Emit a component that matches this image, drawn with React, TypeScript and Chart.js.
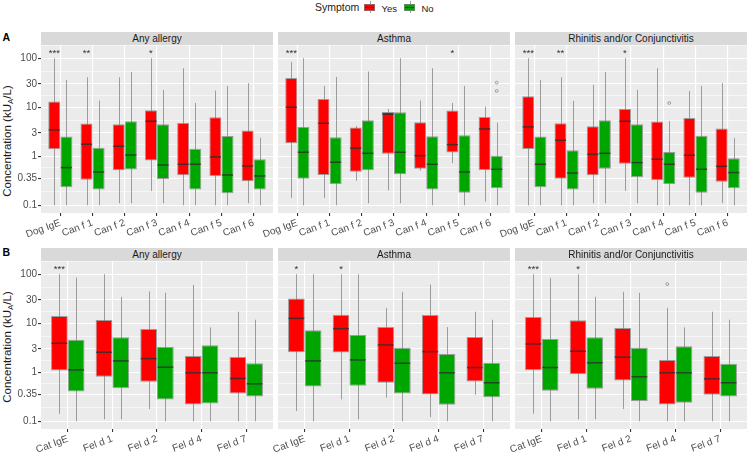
import React, { useEffect, useRef } from 'react';
import { Chart, registerables } from 'chart.js';
Chart.register(...registerables);

// ---------- data ----------
const dogCats = ['Dog IgE', 'Can f 1', 'Can f 2', 'Can f 3', 'Can f 4', 'Can f 5', 'Can f 6'];
const catCats = ['Cat IgE', 'Fel d 1', 'Fel d 2', 'Fel d 4', 'Fel d 7'];

const yTickLabels = [0.1, 0.35, 1, 3, 10, 30, 100];

// each entry: [lower whisker, Q1, median, Q3, upper whisker]
const dogAnyYes = [
  [0.1, 1.39, 3.44, 13.1, 100],
  [0.1, 0.334, 1.76, 4.64, 41],
  [0.11, 0.518, 1.6, 4.5, 41],
  [0.196, 0.817, 5.18, 8.7, 100],
  [0.1, 0.409, 0.687, 4.79, 62.5],
  [0.1, 0.397, 0.97, 6.25, 21.9],
  [0.11, 0.309, 0.635, 3.34, 30.9],
];
const dogAnyNo = [
  [0.1, 0.233, 0.588, 2.52, 36],
  [0.1, 0.209, 0.479, 1.5, 13.7],
  [0.11, 0.535, 1.06, 5.18, 52.6],
  [0.11, 0.344, 0.665, 4.5, 22.6],
  [0.1, 0.209, 0.687, 1.43, 12.2],
  [0.1, 0.176, 0.416, 2.6, 27.2],
  [0.1, 0.209, 0.397, 0.869, 2.4],
];
const dogAsthmaYes = [
  [0.141, 1.84, 10, 39.7, 84],
  [0.141, 0.416, 4.71, 14.8, 27.2],
  [0.318, 0.486, 1.46, 3.85, 4.16],
  [0.2, 1.13, 7.2, 8.03, 9.25],
  [0.51, 0.56, 1.03, 4.94, 13.7],
  [0.72, 1.19, 1.73, 8.55, 12.2],
  [0.119, 0.527, 3.61, 6.36, 10.3],
];
const dogAsthmaNo = [
  [0.1, 0.35, 1.21, 3.97, 100],
  [0.1, 0.272, 0.755, 2.44, 41.6],
  [0.11, 0.518, 1.15, 5.43, 53.5],
  [0.11, 0.43, 1.21, 7.9, 100],
  [0.1, 0.209, 0.687, 2.56, 62.5],
  [0.1, 0.181, 0.479, 2.69, 27.2],
  [0.1, 0.226, 0.543, 1.02, 4.86],
];
const dogRhinYes = [
  [0.1, 1.41, 3.97, 16.7, 100],
  [0.1, 0.35, 2.12, 4.71, 41],
  [0.11, 0.409, 1.1, 4.09, 28.6],
  [0.196, 0.708, 5.18, 9.25, 100],
  [0.1, 0.329, 0.869, 5.1, 62.5],
  [0.1, 0.364, 1.05, 6.05, 21.5],
  [0.11, 0.304, 0.625, 3.67, 30.9],
];
const dogRhinNo = [
  [0.1, 0.233, 0.687, 2.52, 36],
  [0.1, 0.209, 0.455, 1.32, 13.5],
  [0.11, 0.56, 1.15, 5.43, 52.6],
  [0.11, 0.372, 0.743, 4.5, 22.6],
  [0.1, 0.272, 0.687, 1.22, 5.26],
  [0.1, 0.181, 0.543, 2.62, 27.2],
  [0.1, 0.223, 0.465, 0.91, 2.37],
];
const catAnyYes = [
  [0.143, 1.09, 3.91, 14, 100],
  [0.11, 0.809, 2.56, 11.6, 100],
  [0.178, 0.64, 1.9, 7.64, 44.5],
  [0.1, 0.221, 0.975, 2.16, 60.7],
  [0.1, 0.371, 0.748, 2.06, 17.2],
];
const catAnyNo = [
  [0.1, 0.407, 1.12, 4.63, 85.5],
  [0.11, 0.475, 1.71, 5.16, 34.7],
  [0.1, 0.28, 1.27, 3.29, 41.8],
  [0.1, 0.232, 0.975, 3.56, 8.26],
  [0.1, 0.322, 0.582, 1.53, 11.8],
];
const catAsthmaYes = [
  [0.162, 2.56, 12.6, 32, 100],
  [0.28, 2.53, 7.75, 14.9, 100],
  [0.303, 0.611, 3.61, 8.37, 20.4],
  [0.122, 0.354, 2.64, 14.7, 61.6],
  [0.348, 0.65, 1.25, 5.25, 17.2],
];
const catAsthmaNo = [
  [0.1, 0.514, 1.71, 7.18, 100],
  [0.11, 0.531, 1.79, 5.77, 100],
  [0.1, 0.371, 1.53, 3.18, 43.8],
  [0.1, 0.218, 0.975, 2.37, 8.37],
  [0.1, 0.308, 0.611, 1.55, 11.8],
];
const catRhinYes = [
  [0.143, 1.1, 3.78, 13.4, 100],
  [0.11, 0.916, 2.68, 11.5, 100],
  [0.178, 0.68, 2.03, 8.0, 43.8],
  [0.1, 0.221, 0.975, 1.79, 20.7],
  [0.1, 0.348, 0.736, 2.16, 17.2],
];
const catRhinNo = [
  [0.1, 0.42, 1.25, 4.79, 83],
  [0.11, 0.461, 1.56, 5.16, 34.7],
  [0.1, 0.259, 0.809, 3.18, 41.8],
  [0.1, 0.239, 0.975, 3.39, 8.26],
  [0.1, 0.322, 0.611, 1.49, 11.8],
];

// outliers per category
const dogNone = [[], [], [], [], [], [], []];
const catNone = [[], [], [], [], []];
const dogAsthmaNoOut = [[], [], [], [], [], [], [31.8, 21.5]];
const dogRhinNoOut = [[], [], [], [], [12.2], [], []];
const catRhinYesOut = [[], [], [], [62.7], []];

// significance marks (above the "Yes" box)
const dogAnyStars = ['***', '**', '', '*', '', '', ''];
const dogAsthmaStars = ['***', '', '', '', '', '*', ''];
const dogRhinStars = ['***', '**', '', '*', '', '', ''];
const catAnyStars = ['***', '', '', '', ''];
const catAsthmaStars = ['*', '*', '', '', ''];
const catRhinStars = ['***', '*', '', '', ''];

const STAR_VALUE = 110;

// ---------- style ----------
const FONT = '"Liberation Sans", Arial, Helvetica, sans-serif';
const YES_COLOR = '#FF0000';
const NO_COLOR = '#00A600';
const Y_MIN = 0.0697;
const Y_MAX = 186;
const PAD_L = 60;
const PAD_R = 4;
const PANEL_W = 232;
const PLOT_H = 168;
const X_H = 40;
const STRIP_H = 13;
const X_EXPAND = 0.6; // discrete axis expansion (category units)

const minorTicks: number[] = [];
for (let i = 0; i < yTickLabels.length - 1; i++) {
  minorTicks.push(Math.sqrt(yTickLabels[i] * yTickLabels[i + 1]));
}
{
  const n = yTickLabels.length;
  minorTicks.push(yTickLabels[n - 1] * Math.sqrt(yTickLabels[n - 1] / yTickLabels[n - 2]));
}
const isMajor = (v: number) => yTickLabels.includes(v);

const boxPlugin = {
  id: 'boxExtras',
  beforeDraw(chart: any) {
    const { ctx, chartArea: a } = chart;
    ctx.save();
    ctx.fillStyle = '#EBEBEB';
    ctx.fillRect(a.left, a.top, a.right - a.left, a.bottom - a.top);
    ctx.restore();
  },
  beforeDatasetsDraw(chart: any) {
    const { ctx } = chart;
    const ys = chart.scales.y;
    ctx.save();
    ctx.strokeStyle = '#9C9C9C';
    ctx.lineWidth = 1;
    chart.data.datasets.forEach((ds: any, i: number) => {
      const meta = chart.getDatasetMeta(i);
      ds.stats.forEach((s: number[], j: number) => {
        const x = Math.round(meta.data[j].x) + 0.5;
        ctx.beginPath();
        ctx.moveTo(x, ys.getPixelForValue(s[0]));
        ctx.lineTo(x, ys.getPixelForValue(s[4]));
        ctx.stroke();
      });
    });
    ctx.restore();
  },
  afterDatasetsDraw(chart: any) {
    const { ctx } = chart;
    const ys = chart.scales.y;
    ctx.save();
    chart.data.datasets.forEach((ds: any, i: number) => {
      const meta = chart.getDatasetMeta(i);
      ds.stats.forEach((s: number[], j: number) => {
        const el = meta.data[j];
        const w = el.width;
        const y = ys.getPixelForValue(s[2]);
        ctx.strokeStyle = 'rgba(45,45,45,0.8)';
        ctx.lineWidth = 1.5;
        ctx.beginPath();
        ctx.moveTo(el.x - w / 2 + 0.5, y);
        ctx.lineTo(el.x + w / 2 - 0.5, y);
        ctx.stroke();
        (ds.outliers[j] || []).forEach((v: number) => {
          ctx.strokeStyle = '#8C8C8C';
          ctx.lineWidth = 0.8;
          ctx.beginPath();
          ctx.arc(el.x, ys.getPixelForValue(v), 1.4, 0, Math.PI * 2);
          ctx.stroke();
        });
      });
    });
    const ds0 = chart.data.datasets[0];
    const meta0 = chart.getDatasetMeta(0);
    ctx.fillStyle = '#333333';
    ctx.font = `9.5px ${FONT}`;
    ctx.textAlign = 'center';
    ctx.textBaseline = 'alphabetic';
    (ds0.stars || []).forEach((st: string, j: number) => {
      if (!st) return;
      ctx.fillText(st, meta0.data[j].x, ys.getPixelForValue(STAR_VALUE));
    });
    ctx.restore();
  },
};

type PanelProps = {
  left: number;
  top: number;
  cats: string[];
  yes: number[][];
  no: number[][];
  yesOut: number[][];
  noOut: number[][];
  stars: string[];
  showY: boolean;
};

function Panel({ left, top, cats, yes, no, yesOut, noOut, stars, showY }: PanelProps) {
  const ref = useRef<HTMLCanvasElement>(null);
  const W = PAD_L + PANEL_W + PAD_R;
  const H = PLOT_H + X_H;
  useEffect(() => {
    const chart = new Chart(ref.current as HTMLCanvasElement, {
      type: 'bar',
      data: {
        labels: cats,
        datasets: [
          {
            label: 'Yes',
            data: yes.map((s) => [s[1], s[3]]),
            backgroundColor: YES_COLOR,
            borderColor: 'rgba(130,130,130,0.75)',
            borderWidth: 1,
            borderSkipped: false,
            stats: yes,
            outliers: yesOut,
            stars,
          } as any,
          {
            label: 'No',
            data: no.map((s) => [s[1], s[3]]),
            backgroundColor: NO_COLOR,
            borderColor: 'rgba(130,130,130,0.75)',
            borderWidth: 1,
            borderSkipped: false,
            stats: no,
            outliers: noOut,
          } as any,
        ],
      },
      options: {
        animation: false,
        responsive: false,
        events: [],
        layout: { padding: { left: 0, right: PAD_R, top: 0, bottom: 0 } },
        datasets: { bar: { categoryPercentage: 0.75, barPercentage: 1 } },
        plugins: { legend: { display: false }, tooltip: { enabled: false } },
        scales: {
          x: {
            type: 'category',
            offset: false,
            afterBuildTicks: (s: any) => {
              s._startValue = -X_EXPAND;
              s._valueRange = cats.length - 1 + 2 * X_EXPAND;
            },
            grid: {
              offset: false,
              color: '#FFFFFF',
              lineWidth: 1.1,
              drawTicks: true,
              tickLength: 3,
              tickColor: '#333333',
            },
            border: { display: false },
            ticks: {
              autoSkip: false,
              minRotation: 20,
              maxRotation: 20,
              padding: 1,
              color: '#4D4D4D',
              font: { family: FONT, size: 10 },
            },
            afterFit: (s: any) => {
              s.height = X_H;
              s.paddingLeft = 0;
              s.paddingRight = 0;
            },
          } as any,
          y: {
            type: 'logarithmic',
            min: Y_MIN,
            max: Y_MAX,
            afterBuildTicks: (s: any) => {
              s.ticks = [...yTickLabels, ...minorTicks]
                .sort((a, b) => a - b)
                .map((v) => ({ value: v }));
            },
            afterFit: (s: any) => {
              s.width = PAD_L;
              s.paddingTop = 0;
              s.paddingBottom = 0;
            },
            grid: {
              color: '#FFFFFF',
              lineWidth: (c: any) => (c.tick && isMajor(c.tick.value) ? 1.1 : 0.55),
              drawTicks: showY,
              tickLength: 3,
              tickColor: (c: any) => (c.tick && isMajor(c.tick.value) ? '#333333' : 'rgba(0,0,0,0)'),
            },
            border: { display: false },
            ticks: {
              display: showY,
              autoSkip: false,
              padding: 1,
              color: '#4D4D4D',
              font: { family: FONT, size: 10 },
              callback: (v: any) => (isMajor(v) ? String(v) : ''),
            },
          } as any,
        },
      },
      plugins: [boxPlugin as any],
    });
    return () => chart.destroy();
  }, []);
  return (
    <canvas
      ref={ref}
      width={W}
      height={H}
      style={{ position: 'absolute', left: left - PAD_L, top, width: W, height: H }}
    />
  );
}

function Strip({ left, top, text }: { left: number; top: number; text: string }) {
  return (
    <div
      style={{
        position: 'absolute',
        left,
        top,
        width: PANEL_W,
        height: STRIP_H,
        background: '#D9D9D9',
        color: '#1A1A1A',
        fontSize: 10,
        lineHeight: `${STRIP_H}px`,
        textAlign: 'center',
        whiteSpace: 'nowrap',
      }}
    >
      {text}
    </div>
  );
}

function YTitle({ cy }: { cy: number }) {
  return (
    <div
      style={{
        position: 'absolute',
        left: 7.5,
        top: cy,
        transform: 'translate(-50%,-50%) rotate(-90deg)',
        whiteSpace: 'nowrap',
        fontSize: 11.5,
        lineHeight: 1,
        color: '#1A1A1A',
      }}
    >
      Concentration (kU<sub style={{ fontSize: 8, verticalAlign: '-2px', lineHeight: 0 }}>A</sub>/L)
    </div>
  );
}

function LegendKey({ left, color }: { left: number; color: string }) {
  return (
    <div style={{ position: 'absolute', left, top: 0, width: 12, height: 15 }}>
      <div style={{ position: 'absolute', left: 5.5, top: 1, width: 1, height: 12, background: '#9C9C9C' }} />
      <div
        style={{
          position: 'absolute',
          left: 0,
          top: 3.5,
          width: 11,
          height: 7,
          boxSizing: 'border-box',
          background: color,
          border: '1px solid rgba(130,130,130,0.75)',
        }}
      />
      <div style={{ position: 'absolute', left: 1, top: 6.5, width: 9, height: 1.2, background: 'rgba(45,45,45,0.8)' }} />
    </div>
  );
}

const panelLefts = [41, 278, 515];
const TOP_STRIP = 32;
const TOP_PLOT = TOP_STRIP + STRIP_H;
const BOT_STRIP = 247.5;
const BOT_PLOT = BOT_STRIP + STRIP_H;

export default function App() {
  return (
    <div
      style={{
        position: 'fixed',
        left: 0,
        top: 0,
        width: 749,
        height: 452,
        background: '#FFFFFF',
        overflow: 'hidden',
        fontFamily: FONT,
      }}
    >
      {/* legend */}
      <div style={{ position: 'absolute', left: 315, top: 1, fontSize: 10.5, color: '#1A1A1A', lineHeight: '13px' }}>
        Symptom
      </div>
      <LegendKey left={364} color={YES_COLOR} />
      <div style={{ position: 'absolute', left: 381.5, top: 1.5, fontSize: 9.5, color: '#1A1A1A', lineHeight: '13px' }}>
        Yes
      </div>
      <LegendKey left={404} color={NO_COLOR} />
      <div style={{ position: 'absolute', left: 421.5, top: 1.5, fontSize: 9.5, color: '#1A1A1A', lineHeight: '13px' }}>
        No
      </div>

      {/* panel letters */}
      <div style={{ position: 'absolute', left: 2.5, top: 31, fontSize: 10.5, fontWeight: 'bold', lineHeight: '13px' }}>A</div>
      <div style={{ position: 'absolute', left: 2.5, top: 245.5, fontSize: 10.5, fontWeight: 'bold', lineHeight: '13px' }}>B</div>

      <YTitle cy={141} />
      <YTitle cy={347} />

      {/* row A */}
      <Panel left={panelLefts[0]} top={TOP_PLOT} cats={dogCats} yes={dogAnyYes} no={dogAnyNo} yesOut={dogNone} noOut={dogNone} stars={dogAnyStars} showY={true} />
      <Panel left={panelLefts[1]} top={TOP_PLOT} cats={dogCats} yes={dogAsthmaYes} no={dogAsthmaNo} yesOut={dogNone} noOut={dogAsthmaNoOut} stars={dogAsthmaStars} showY={false} />
      <Panel left={panelLefts[2]} top={TOP_PLOT} cats={dogCats} yes={dogRhinYes} no={dogRhinNo} yesOut={dogNone} noOut={dogRhinNoOut} stars={dogRhinStars} showY={false} />

      {/* row B */}
      <Panel left={panelLefts[0]} top={BOT_PLOT} cats={catCats} yes={catAnyYes} no={catAnyNo} yesOut={catNone} noOut={catNone} stars={catAnyStars} showY={true} />
      <Panel left={panelLefts[1]} top={BOT_PLOT} cats={catCats} yes={catAsthmaYes} no={catAsthmaNo} yesOut={catNone} noOut={catNone} stars={catAsthmaStars} showY={false} />
      <Panel left={panelLefts[2]} top={BOT_PLOT} cats={catCats} yes={catRhinYes} no={catRhinNo} yesOut={catRhinYesOut} noOut={catNone} stars={catRhinStars} showY={false} />

      <Strip left={panelLefts[0]} top={TOP_STRIP} text="Any allergy" />
      <Strip left={panelLefts[1]} top={TOP_STRIP} text="Asthma" />
      <Strip left={panelLefts[2]} top={TOP_STRIP} text="Rhinitis and/or Conjunctivitis" />
      <Strip left={panelLefts[0]} top={BOT_STRIP} text="Any allergy" />
      <Strip left={panelLefts[1]} top={BOT_STRIP} text="Asthma" />
      <Strip left={panelLefts[2]} top={BOT_STRIP} text="Rhinitis and/or Conjunctivitis" />
    </div>
  );
}
